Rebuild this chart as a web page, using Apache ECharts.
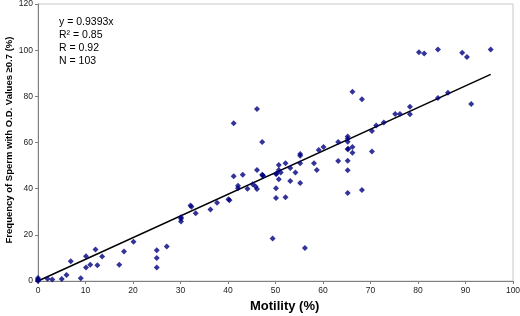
<!DOCTYPE html>
<html>
<head>
<meta charset="utf-8">
<script src="https://cdn.jsdelivr.net/npm/echarts@6/dist/echarts.min.js"></script>
<style>
html,body{margin:0;padding:0;background:#fff;}
#chart{width:520px;height:316px;}
</style>
</head>
<body>
<div id="chart"></div>
<script>
// motility (%) of each sample
var motility = [0, 0, 0, 0, 2, 3, 5, 6, 6.9, 9, 10.1, 10.1, 11, 12.1, 12.5, 13.5, 17.1, 18.1, 20.1,
  25, 25, 25, 27.1, 30.1, 30.1, 30.1, 32.1, 32.3, 33.2, 36.3, 37.7, 40.1, 40.3, 41.2, 41.2, 42.1, 42.1,
  43.1, 44.1, 45.2, 45.8, 46.1, 46.1, 46.1, 47.2, 47.2, 47.4, 49.4, 50.1, 50.1, 50.1, 50.2, 50.7, 50.7,
  50.7, 51.1, 52.1, 52.1, 53.1, 53.1, 54.2, 55.2, 55.2, 55.2, 55.2, 56.2, 58.1, 58.7, 59.1, 60.1, 63.2,
  63.2, 65.2, 65.2, 65.2, 65.2, 65.2, 65.2, 65.2, 65.3, 66.2, 66.2, 66.2, 68.2, 68.2, 70.3, 70.3, 71.2,
  72.8, 75.2, 76.2, 78.3, 78.3, 80.2, 81.3, 84.2, 84.2, 86.3, 89.3, 90.3, 91.2, 95.3, 47.3];
// frequency of sperm with O.D. >= 0.7 (%)
var frequency = [0.3, 1.3, 0.8, 0, 1, 0.6, 0.9, 2.6, 8.6, 1.2, 10.7, 5.8, 7, 13.7, 6.8, 10.6, 7, 12.8, 17,
  13.3, 10, 5.8, 15, 27.6, 25.8, 27, 32.7, 32.2, 29.3, 31, 33.9, 35.4, 35, 45.4, 68.3, 41.3, 40.2,
  46, 40, 41.9, 40.9, 39.9, 48.1, 74.5, 60.2, 46, 45.5, 18.4, 46.3, 40.2, 36, 46.5, 50.3, 48.1,
  44.1, 47, 51, 36.3, 49, 43.3, 47, 54.3, 55, 51, 42.5, 14.3, 51, 48.1, 56.7, 58.1, 60.2,
  52, 62.6, 61.6, 60.3, 57.1, 52.1, 48, 38.1, 57.3, 82, 58.1, 55.6, 78.7, 39.4, 65, 56.1, 67.4,
  68.7, 72.3, 72.3, 75.5, 72.2, 99.1, 98.6, 100.3, 79.3, 81.6, 98.9, 97, 76.7, 100.3, 45.8];
// fitted line y = 0.9393x, end points
var fitX = [0, 95.3];
var fitY = [0, 89.5];
var xTicks = [0, 10, 20, 30, 40, 50, 60, 70, 80, 90, 100];
var yTicks = [0, 20, 40, 60, 80, 100, 120];
var statLines = ['y = 0.9393x', 'R\u00b2 = 0.85', 'R = 0.92', 'N = 103'];

var points = motility.map(function (m, i) { return [m, frequency[i]]; });
var fitLine = fitX.map(function (x, i) { return [x, fitY[i]]; });

var myChart = echarts.init(document.getElementById('chart'));
var font = '"Liberation Sans", Arial, sans-serif';
var option = {
  animation: false,
  grid: {
    left: 38, right: 7, top: 4, bottom: 35,
    outerBoundsMode: 'none', containLabel: false,
    show: true, borderColor: '#c8c8c8', borderWidth: 1
  },
  xAxis: {
    type: 'value', min: xTicks[0], max: xTicks[xTicks.length - 1], interval: 10,
    axisLine: { lineStyle: { color: '#808080', width: 1 } },
    axisTick: { length: 3, lineStyle: { color: '#808080' } },
    axisLabel: { fontFamily: font, fontSize: 8.5, color: '#222', margin: 5 },
    splitLine: { show: false }
  },
  yAxis: {
    type: 'value', min: yTicks[0], max: yTicks[yTicks.length - 1], interval: 20,
    axisLine: { show: true, lineStyle: { color: '#808080', width: 1 } },
    axisTick: { show: true, length: 3, lineStyle: { color: '#808080' } },
    axisLabel: { fontFamily: font, fontSize: 8.5, color: '#222', margin: 5 },
    splitLine: { show: false }
  },
  graphic: [{
    type: 'text', left: 59, top: 16,
    style: {
      text: statLines.join('\n'), font: '10.5px ' + font, fill: '#000', lineHeight: 12.8
    }
  }, {
    type: 'text', left: 250, top: 300,
    style: { text: 'Motility (%)', font: 'bold 13px ' + font, fill: '#000' }
  }, {
    type: 'text', x: 9, y: 140, rotation: Math.PI / 2,
    style: {
      text: 'Frequency of Sperm with O.D. Values \u22650.7 (%)',
      font: 'bold 9.5px ' + font, fill: '#000', align: 'center', verticalAlign: 'middle'
    }
  }],
  series: [{
    type: 'line', data: fitLine, symbol: 'none',
    lineStyle: { color: '#000', width: 1.5 }, z: 2
  }, {
    type: 'scatter', data: points, symbol: 'diamond', symbolSize: 6,
    itemStyle: { color: '#000080' }, z: 3
  }]
};
myChart.setOption(option);
</script>
</body>
</html>
